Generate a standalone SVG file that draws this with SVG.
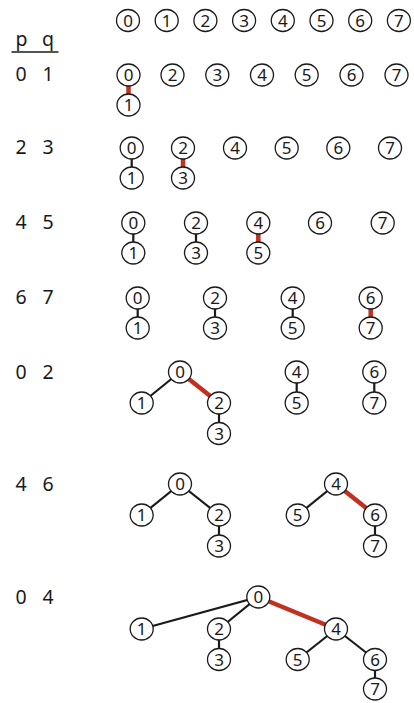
<svg xmlns="http://www.w3.org/2000/svg" width="414" height="703" viewBox="0 0 414 703">
<style>
.n use{fill:#fff;stroke:#1a1a1a;stroke-width:1.3}
.n text{font-family:"Noto Sans","Open Sans","DejaVu Sans",sans-serif;font-size:17px;fill:#1a1a1a;text-anchor:middle}
.lbl{font-family:"Noto Sans","Open Sans","DejaVu Sans",sans-serif;font-size:19.5px;fill:#1a1a1a;text-anchor:middle}
.e{stroke:#1a1a1a;stroke-width:2.2;fill:none}
.r{stroke:#c0311f;stroke-width:4.5;fill:none}
</style>
<defs>
<ellipse id="c" cx="0" cy="0" rx="11.5" ry="11" fill="#fff" stroke="#1a1a1a" stroke-width="1.3"/>
</defs>
<g id="header">
<text class="lbl" x="21.5" y="46">p</text>
<text class="lbl" x="48" y="46">q</text>
<line x1="11.5" y1="52" x2="58.5" y2="52" stroke="#1a1a1a" stroke-width="1.6"/>
<text class="lbl" x="21" y="81">0</text><text class="lbl" x="48" y="81">1</text>
<text class="lbl" x="21" y="154">2</text><text class="lbl" x="48" y="154">3</text>
<text class="lbl" x="21" y="229">4</text><text class="lbl" x="48" y="229">5</text>
<text class="lbl" x="21" y="304">6</text><text class="lbl" x="48" y="304">7</text>
<text class="lbl" x="21" y="379">0</text><text class="lbl" x="48" y="379">2</text>
<text class="lbl" x="21" y="491">4</text><text class="lbl" x="48" y="491">6</text>
<text class="lbl" x="21" y="604">0</text><text class="lbl" x="48" y="604">4</text>
</g>
<g id="connectors">
<line class="r" x1="128.5" y1="75" x2="128.5" y2="105"/>
<line class="e" x1="131.7" y1="148" x2="131.7" y2="178"/>
<line class="r" x1="183" y1="148" x2="183" y2="178"/>
<line class="e" x1="133.3" y1="223" x2="133.3" y2="253"/>
<line class="e" x1="196" y1="223" x2="196" y2="253"/>
<line class="r" x1="258.3" y1="223" x2="258.3" y2="253"/>
<line class="e" x1="137.7" y1="298" x2="137.7" y2="328"/>
<line class="e" x1="215" y1="298" x2="215" y2="328"/>
<line class="e" x1="292.7" y1="298" x2="292.7" y2="328"/>
<line class="r" x1="370.7" y1="298" x2="370.7" y2="328"/>
<line class="e" x1="180" y1="372" x2="141.7" y2="403"/>
<line class="r" x1="180" y1="372" x2="219" y2="403"/>
<line class="e" x1="219" y1="403" x2="219" y2="433.5"/>
<line class="e" x1="296.7" y1="372" x2="296.7" y2="403"/>
<line class="e" x1="374.3" y1="372" x2="374.3" y2="403"/>
<line class="e" x1="180" y1="484" x2="141.7" y2="515"/>
<line class="e" x1="180" y1="484" x2="219" y2="515"/>
<line class="e" x1="219" y1="515" x2="219" y2="546"/>
<line class="e" x1="336" y1="484" x2="297.7" y2="515"/>
<line class="r" x1="336" y1="484" x2="375" y2="515"/>
<line class="e" x1="375" y1="515" x2="375" y2="546"/>
<line class="e" x1="258.3" y1="597" x2="141.7" y2="629"/>
<line class="e" x1="258.3" y1="597" x2="219" y2="629"/>
<line class="r" x1="258.3" y1="597" x2="336" y2="629"/>
<line class="e" x1="219" y1="629" x2="219" y2="659.5"/>
<line class="e" x1="336" y1="629" x2="297.7" y2="659.5"/>
<line class="e" x1="336" y1="629" x2="375" y2="659.5"/>
<line class="e" x1="375" y1="659.5" x2="375" y2="689"/>
</g>
<g id="row0">
<g id="r0n0" class="n" transform="translate(128,20.5)"><use href="#c"/><text y="6">0</text></g>
<g id="r0n1" class="n" transform="translate(166.7,20.5)"><use href="#c"/><text y="6">1</text></g>
<g id="r0n2" class="n" transform="translate(205.4,20.5)"><use href="#c"/><text y="6">2</text></g>
<g id="r0n3" class="n" transform="translate(244.1,20.5)"><use href="#c"/><text y="6">3</text></g>
<g id="r0n4" class="n" transform="translate(282.8,20.5)"><use href="#c"/><text y="6">4</text></g>
<g id="r0n5" class="n" transform="translate(321.5,20.5)"><use href="#c"/><text y="6">5</text></g>
<g id="r0n6" class="n" transform="translate(360.2,20.5)"><use href="#c"/><text y="6">6</text></g>
<g id="r0n7" class="n" transform="translate(398.9,20.5)"><use href="#c"/><text y="6">7</text></g>
</g>
<g id="row1">
<g id="r1n0" class="n" transform="translate(128.5,75)"><use href="#c"/><text y="6">0</text></g>
<g id="r1n1" class="n" transform="translate(128.5,105)"><use href="#c"/><text y="6">1</text></g>
<g id="r1n2" class="n" transform="translate(172.5,75)"><use href="#c"/><text y="6">2</text></g>
<g id="r1n3" class="n" transform="translate(217.3,75)"><use href="#c"/><text y="6">3</text></g>
<g id="r1n4" class="n" transform="translate(262,75)"><use href="#c"/><text y="6">4</text></g>
<g id="r1n5" class="n" transform="translate(306.7,75)"><use href="#c"/><text y="6">5</text></g>
<g id="r1n6" class="n" transform="translate(351.5,75)"><use href="#c"/><text y="6">6</text></g>
<g id="r1n7" class="n" transform="translate(396.5,75)"><use href="#c"/><text y="6">7</text></g>
</g>
<g id="row2">
<g id="r2n0" class="n" transform="translate(131.7,148)"><use href="#c"/><text y="6">0</text></g>
<g id="r2n1" class="n" transform="translate(131.7,178)"><use href="#c"/><text y="6">1</text></g>
<g id="r2n2" class="n" transform="translate(183,148)"><use href="#c"/><text y="6">2</text></g>
<g id="r2n3" class="n" transform="translate(183,178)"><use href="#c"/><text y="6">3</text></g>
<g id="r2n4" class="n" transform="translate(235,148)"><use href="#c"/><text y="6">4</text></g>
<g id="r2n5" class="n" transform="translate(286.7,148)"><use href="#c"/><text y="6">5</text></g>
<g id="r2n6" class="n" transform="translate(338.3,148)"><use href="#c"/><text y="6">6</text></g>
<g id="r2n7" class="n" transform="translate(390,148)"><use href="#c"/><text y="6">7</text></g>
</g>
<g id="row3">
<g id="r3n0" class="n" transform="translate(133.3,223)"><use href="#c"/><text y="6">0</text></g>
<g id="r3n1" class="n" transform="translate(133.3,253)"><use href="#c"/><text y="6">1</text></g>
<g id="r3n2" class="n" transform="translate(196,223)"><use href="#c"/><text y="6">2</text></g>
<g id="r3n3" class="n" transform="translate(196,253)"><use href="#c"/><text y="6">3</text></g>
<g id="r3n4" class="n" transform="translate(258.3,223)"><use href="#c"/><text y="6">4</text></g>
<g id="r3n5" class="n" transform="translate(258.3,253)"><use href="#c"/><text y="6">5</text></g>
<g id="r3n6" class="n" transform="translate(320,223)"><use href="#c"/><text y="6">6</text></g>
<g id="r3n7" class="n" transform="translate(382.7,223)"><use href="#c"/><text y="6">7</text></g>
</g>
<g id="row4">
<g id="r4n0" class="n" transform="translate(137.7,298)"><use href="#c"/><text y="6">0</text></g>
<g id="r4n1" class="n" transform="translate(137.7,328)"><use href="#c"/><text y="6">1</text></g>
<g id="r4n2" class="n" transform="translate(215,298)"><use href="#c"/><text y="6">2</text></g>
<g id="r4n3" class="n" transform="translate(215,328)"><use href="#c"/><text y="6">3</text></g>
<g id="r4n4" class="n" transform="translate(292.7,298)"><use href="#c"/><text y="6">4</text></g>
<g id="r4n5" class="n" transform="translate(292.7,328)"><use href="#c"/><text y="6">5</text></g>
<g id="r4n6" class="n" transform="translate(370.7,298)"><use href="#c"/><text y="6">6</text></g>
<g id="r4n7" class="n" transform="translate(370.7,328)"><use href="#c"/><text y="6">7</text></g>
</g>
<g id="row5">
<g id="r5n0" class="n" transform="translate(180,372)"><use href="#c"/><text y="6">0</text></g>
<g id="r5n1" class="n" transform="translate(141.7,403)"><use href="#c"/><text y="6">1</text></g>
<g id="r5n2" class="n" transform="translate(219,403)"><use href="#c"/><text y="6">2</text></g>
<g id="r5n3" class="n" transform="translate(219,433.5)"><use href="#c"/><text y="6">3</text></g>
<g id="r5n4" class="n" transform="translate(296.7,372)"><use href="#c"/><text y="6">4</text></g>
<g id="r5n5" class="n" transform="translate(296.7,403)"><use href="#c"/><text y="6">5</text></g>
<g id="r5n6" class="n" transform="translate(374.3,372)"><use href="#c"/><text y="6">6</text></g>
<g id="r5n7" class="n" transform="translate(374.3,403)"><use href="#c"/><text y="6">7</text></g>
</g>
<g id="row6">
<g id="r6n0" class="n" transform="translate(180,484)"><use href="#c"/><text y="6">0</text></g>
<g id="r6n1" class="n" transform="translate(141.7,515)"><use href="#c"/><text y="6">1</text></g>
<g id="r6n2" class="n" transform="translate(219,515)"><use href="#c"/><text y="6">2</text></g>
<g id="r6n3" class="n" transform="translate(219,546)"><use href="#c"/><text y="6">3</text></g>
<g id="r6n4" class="n" transform="translate(336,484)"><use href="#c"/><text y="6">4</text></g>
<g id="r6n5" class="n" transform="translate(297.7,515)"><use href="#c"/><text y="6">5</text></g>
<g id="r6n6" class="n" transform="translate(375,515)"><use href="#c"/><text y="6">6</text></g>
<g id="r6n7" class="n" transform="translate(375,546)"><use href="#c"/><text y="6">7</text></g>
</g>
<g id="row7">
<g id="r7n0" class="n" transform="translate(258.3,597)"><use href="#c"/><text y="6">0</text></g>
<g id="r7n1" class="n" transform="translate(141.7,629)"><use href="#c"/><text y="6">1</text></g>
<g id="r7n2" class="n" transform="translate(219,629)"><use href="#c"/><text y="6">2</text></g>
<g id="r7n3" class="n" transform="translate(219,659.5)"><use href="#c"/><text y="6">3</text></g>
<g id="r7n4" class="n" transform="translate(336,629)"><use href="#c"/><text y="6">4</text></g>
<g id="r7n5" class="n" transform="translate(297.7,659.5)"><use href="#c"/><text y="6">5</text></g>
<g id="r7n6" class="n" transform="translate(375,659.5)"><use href="#c"/><text y="6">6</text></g>
<g id="r7n7" class="n" transform="translate(375,689)"><use href="#c"/><text y="6">7</text></g>
</g>
</svg>
